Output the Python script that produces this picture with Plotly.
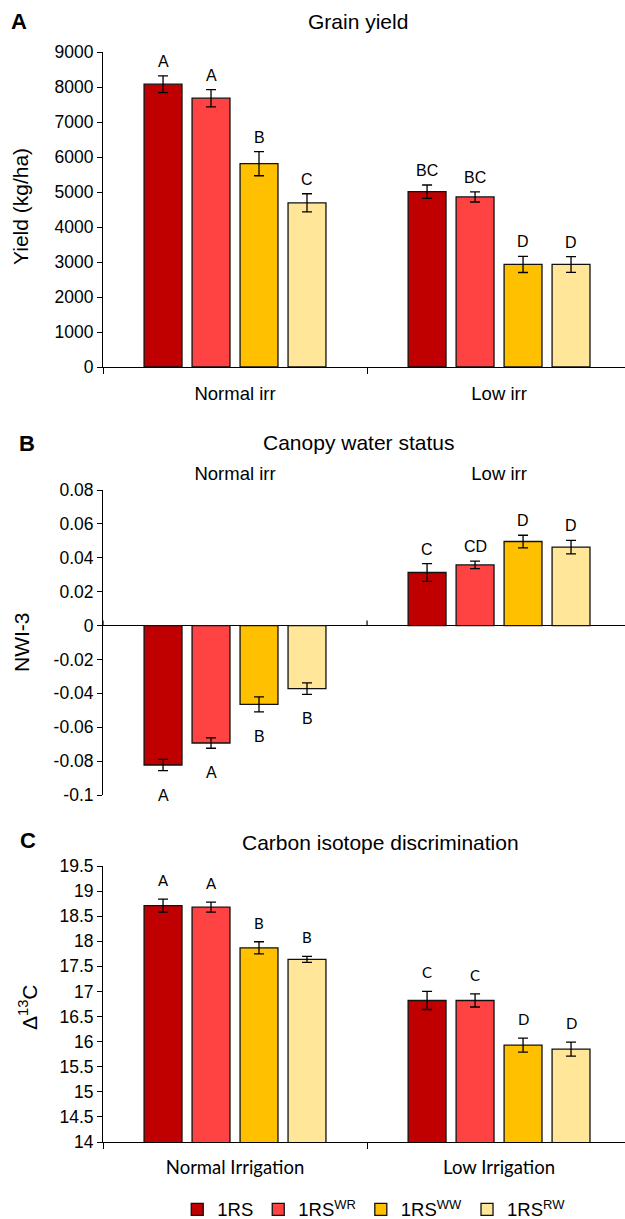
import plotly.graph_objects as go
from plotly.subplots import make_subplots

W, H = 625, 1219

groups_a = ["Normal irr", "Low irr"]
groups_c = ["Normal Irrigation", "Low Irrigation"]
lines = ["1RS", "1RS<sup>WR</sup>", "1RS<sup>WW</sup>", "1RS<sup>RW</sup>"]
colors = ["#C00000", "#FF4343", "#FFC000", "#FFE699"]

# Grain yield (kg/ha), one list per line: [normal, low]
yield_mean = [[8080, 5010], [7680, 4860], [5810, 2930], [4690, 2930]]
yield_err = [[240, 190], [245, 145], [345, 230], [260, 225]]
yield_letters = [["A", "BC"], ["A", "BC"], ["B", "D"], ["C", "D"]]

# Canopy water status (NWI-3)
nwi_mean = [[-0.0823, 0.0313], [-0.0693, 0.0358], [-0.0465, 0.0496], [-0.0372, 0.0463]]
nwi_err = [[0.0033, 0.0052], [0.0031, 0.0022], [0.0044, 0.0037], [0.0034, 0.0040]]
nwi_letters = [["A", "C"], ["A", "CD"], ["B", "D"], ["B", "D"]]
nwi_ticks = [0.08, 0.06, 0.04, 0.02, 0, -0.02, -0.04, -0.06, -0.08, -0.1]
nwi_ticktext = ["0.08", "0.06", "0.04", "0.02", "0", "-0.02", "-0.04", "-0.06", "-0.08", "-0.1"]

# Carbon isotope discrimination
d13c_mean = [[18.71, 16.82], [18.68, 16.82], [17.87, 15.93], [17.64, 15.85]]
d13c_err = [[0.13, 0.18], [0.10, 0.13], [0.12, 0.14], [0.06, 0.14]]
d13c_letters = [["A", "C"], ["A", "C"], ["B", "D"], ["B", "D"]]

FONT = "Liberation Sans, Arial, sans-serif"
FONT_C = "Lato, Liberation Sans, sans-serif"
BARGAP, GROUPGAP = 0.273, 0.21


def px_x(x):
    return x / W


def px_y(y):
    return 1 - y / H


fig = make_subplots(rows=3, cols=1)

panels = [
    (groups_a, yield_mean, yield_err, yield_letters),
    (groups_a, nwi_mean, nwi_err, nwi_letters),
    (groups_c, d13c_mean, d13c_err, d13c_letters),
]

slot = (1 - BARGAP) / len(lines)
for row, (cats, means, errs, letters) in enumerate(panels, start=1):
    for i, name in enumerate(lines):
        fig.add_trace(go.Bar(
            x=cats, y=means[i], name=name,
            marker=dict(color=colors[i], line=dict(color="#111111", width=1.3)),
            error_y=dict(type="data", array=errs[i], color="black", thickness=1.3, width=5),
            showlegend=(row == 3),
            offsetgroup=str(i),
        ), row=row, col=1)
        off = -(1 - BARGAP) / 2 + slot * (i + 0.5)
        for g in range(len(cats)):
            v, e = means[i][g], errs[i][g]
            neg = v < 0
            fig.add_annotation(
                x=g + off, y=(v - e) if neg else (v + e),
                xref=f"x{row}", yref=f"y{row}",
                text=letters[i][g], showarrow=False,
                xanchor="center", yanchor="top" if neg else "bottom",
                yshift=-14 if neg else (8 if row == 3 else 4),
                font=dict(family=FONT_C if row == 3 else FONT, size=15 if row == 3 else 16,
                          color="black"),
            )

xdom = [px_x(103), 1.0]
xrange = [-0.5, 1.477]
common_y = dict(showline=True, linecolor="black", linewidth=1, ticks="outside", ticklen=5,
                tickcolor="black", showgrid=False, zeroline=False, automargin=False,
                tickfont=dict(family=FONT, size=17.5, color="black"))
common_x = dict(domain=xdom, range=xrange, showgrid=False, type="category", automargin=False,
                tickfont=dict(family=FONT, size=18.5, color="black"))

fig.update_layout(
    xaxis=dict(**common_x, showline=True, linecolor="black", linewidth=1.2, ticks="outside",
               tickson="boundaries", ticklen=6, tickcolor="black", ticklabelstandoff=10,
               anchor="y"),
    yaxis=dict(**common_y, domain=[px_y(367), px_y(52)], range=[0, 9000], dtick=1000, tickformat="d"),
    xaxis2=dict(**common_x, side="top", showline=False, ticks="outside", ticklen=2,
                tickcolor="rgba(0,0,0,0)", anchor="y2"),
    yaxis2=dict(**common_y, domain=[px_y(795), px_y(490)], range=[-0.1, 0.08],
                tickvals=nwi_ticks, ticktext=nwi_ticktext),
    xaxis3=dict(**common_x, showline=True, linecolor="black", linewidth=1.2, ticks="outside",
                tickson="boundaries", ticklen=6, tickcolor="black", ticklabelstandoff=9,
                anchor="y3"),
    yaxis3=dict(**common_y, domain=[px_y(1142), px_y(866)], range=[14, 19.5], dtick=0.5),
)
fig.update_xaxes(tickfont_family=FONT_C, tickfont_size=18.5, row=3, col=1)
fig.update_yaxes(zeroline=True, zerolinecolor="black", zerolinewidth=1.2, row=2, col=1)

# ticks on the zero line of panel B
for xb in [-0.5, 0.5]:
    fig.add_shape(type="line", xref="x2", yref="y2", x0=xb, x1=xb, y0=0, y1=0.003,
                  line=dict(color="black", width=1.2))

# panel titles, letters and y titles
titles = [("Grain yield", 358, 22), ("Canopy water status", 358, 442),
          ("Carbon isotope discrimination", 380, 843)]
for text, x, y in titles:
    fig.add_annotation(x=px_x(x), y=px_y(y), xref="paper", yref="paper", text=text,
                       xanchor="center", yanchor="middle", showarrow=False,
                       font=dict(family=FONT, size=21, color="black"))
for text, x, y in [("A", 19, 21), ("B", 27, 443), ("C", 28, 840)]:
    fig.add_annotation(x=px_x(x), y=px_y(y), xref="paper", yref="paper", text=f"<b>{text}</b>",
                       xanchor="center", yanchor="middle", showarrow=False,
                       font=dict(family=FONT, size=22, color="black"))
for text, x, y in [("Yield (kg/ha)", 21, 207), ("NWI-3", 21, 642), ("Δ<sup>13</sup>C", 28, 1007)]:
    fig.add_annotation(x=px_x(x), y=px_y(y), xref="paper", yref="paper", text=text,
                       xanchor="center", yanchor="middle", textangle=-90, showarrow=False,
                       font=dict(family=FONT, size=21, color="black"))

fig.update_layout(
    width=W, height=H,
    barmode="group", bargap=BARGAP, bargroupgap=GROUPGAP,
    paper_bgcolor="white", plot_bgcolor="white",
    margin=dict(l=0, r=0, t=0, b=0, autoexpand=False),
    font=dict(family=FONT, color="black"),
    legend=dict(orientation="h", x=0.598, xanchor="center", y=-0.008, yanchor="bottom",
                font=dict(family=FONT, size=18.5, color="black"), traceorder="normal",
                itemwidth=30),
)

fig.write_html("out.html", config={"displayModeBar": False},
               post_script="document.body.style.margin='0';")
